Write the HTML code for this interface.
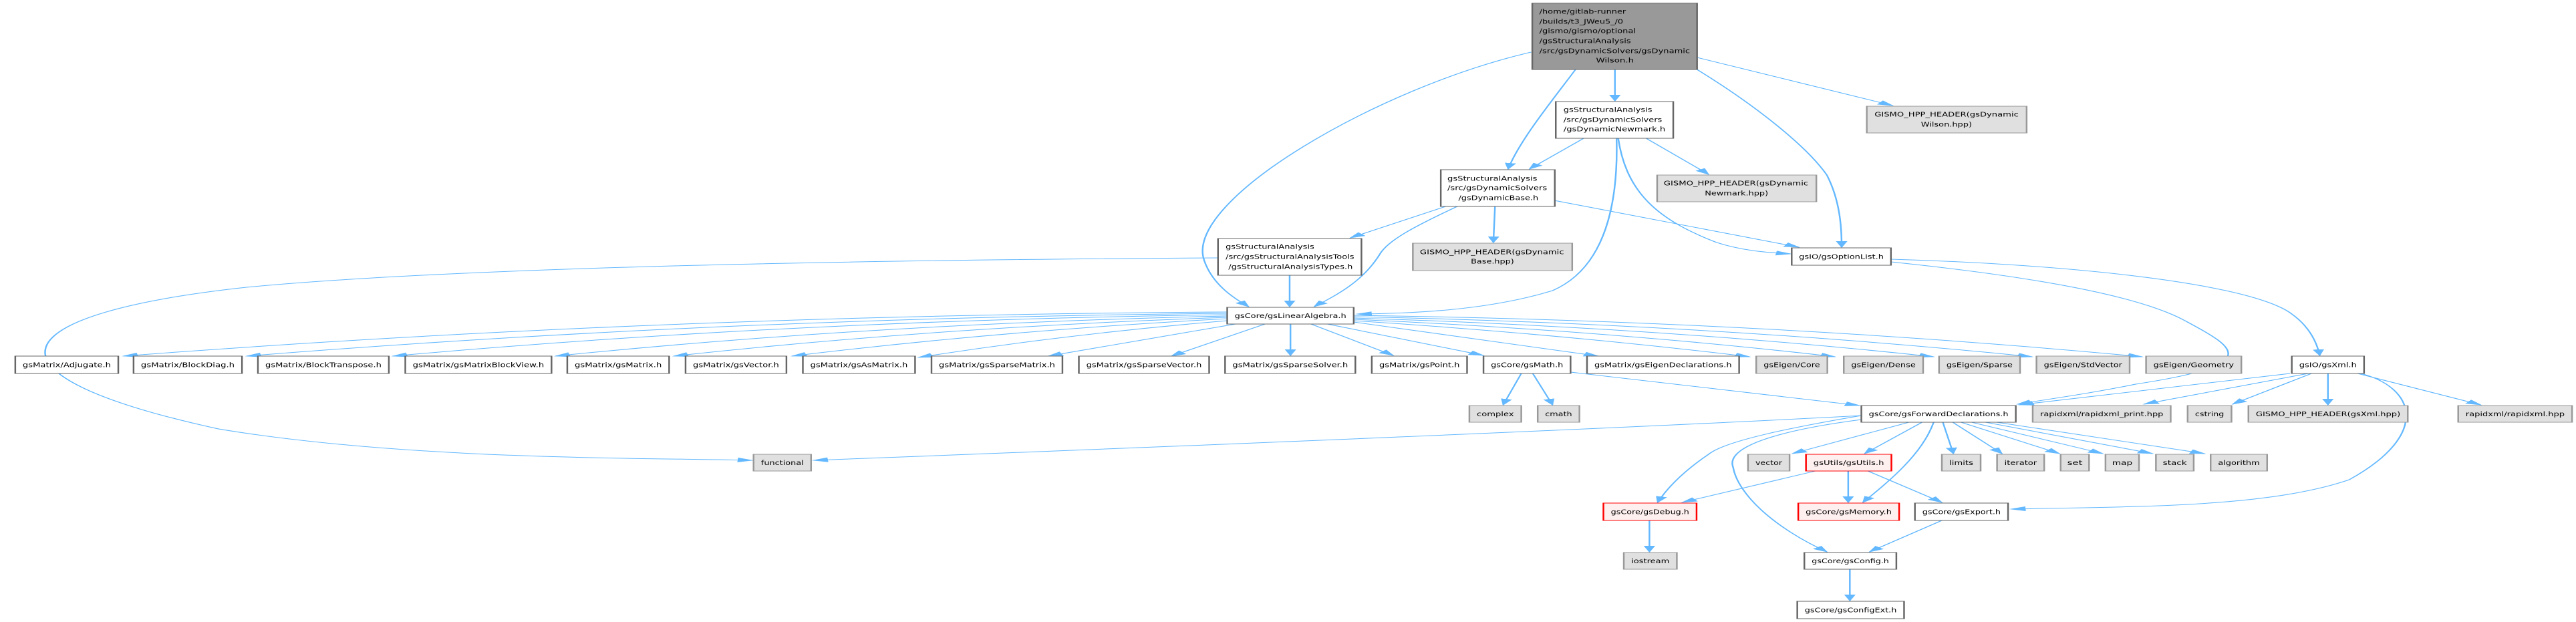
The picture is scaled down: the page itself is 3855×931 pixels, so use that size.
<!DOCTYPE html>
<html><head><meta charset="utf-8"><style>
html,body{margin:0;padding:0;background:#fff;}
svg{display:block;}
text{font-family:"DejaVu Sans","Liberation Sans",sans-serif;font-size:10px;fill:#000;}
.e{fill:none;stroke:#63b8ff;stroke-width:1;marker-end:url(#a);}
.w{fill:#fff;stroke:#666;stroke-width:1;}
.g{fill:#e0e0e0;stroke:#999;stroke-width:1;}
.r{fill:#fff0f0;stroke:#f00;stroke-width:1;}
.t{fill:#999;stroke:#666;stroke-width:1;}
</style></head><body>
<svg width="3855" height="931" viewBox="0 0 1568 931" preserveAspectRatio="none" xmlns="http://www.w3.org/2000/svg">
<defs><marker id="a" markerUnits="userSpaceOnUse" markerWidth="10" markerHeight="8" refX="9" refY="3.5" orient="auto"><path d="M0,0 L10,3.5 L0,7 z" fill="#63b8ff"/></marker></defs>

<!-- edges -->
<path class="e" d="M932,78 C840,130 720,300 733,390 C738,425 750,445 760,459"/>
<path class="e" d="M959,104 C945,150 925,210 918,253"/>
<path class="e" d="M983,104 L983,151"/>
<path class="e" d="M1033,86 L1152,158"/>
<path class="e" d="M1033,104 C1070,160 1100,220 1112,262 C1120,300 1121,340 1121,370"/>
<path class="e" d="M964,207 L931,253"/>
<path class="e" d="M1002,207 L1040,261"/>
<path class="e" d="M984,207 C985,300 978,400 945,435 C905,465 860,469 826,470"/>
<path class="e" d="M985,207 C990,290 1010,330 1045,363 C1060,375 1075,378 1090,380"/>
<path class="e" d="M880,309 L822,356"/>
<path class="e" d="M887,309 C860,340 845,360 840,380 C830,420 815,440 800,459"/>
<path class="e" d="M910,309 L909,363"/>
<path class="e" d="M946,300 L1095,370"/>
<path class="e" d="M785,412 L785,459"/>
<path class="e" d="M741,386 C600,388 300,395 150,430 C0,470 -20,560 133,642 C250,690 400,685 458,689"/>
<path class="e" d="M1133,622 C1000,640 700,670 495,689"/>
<!-- L fan -->
<path class="e" d="M747,467 Q400,472 75,533"/>
<path class="e" d="M747,469 Q440,476 150,533"/>
<path class="e" d="M747,471 Q480,480 239,533"/>
<path class="e" d="M747,473 Q530,485 338,533"/>
<path class="e" d="M747,475 Q570,490 410,533"/>
<path class="e" d="M747,477 Q610,495 482,533"/>
<path class="e" d="M747,480 Q650,500 559,535"/>
<path class="e" d="M752,485 L638,533"/>
<path class="e" d="M770,485 L713,533"/>
<path class="e" d="M785.5,485 L785.5,532"/>
<path class="e" d="M798,485 L848,532"/>
<path class="e" d="M808,485 L903,532"/>
<path class="e" d="M824,482 L973,533"/>
<path class="e" d="M824,480 Q950,500 1065,534"/>
<path class="e" d="M824,478 Q980,495 1117,534"/>
<path class="e" d="M824,476 Q1010,490 1177,534"/>
<path class="e" d="M824,474 Q1040,485 1237,534"/>
<path class="e" d="M824,472 Q1070,480 1304,534"/>
<!-- gsMath -->
<path class="e" d="M926,559 L915,606"/>
<path class="e" d="M933,559 L945,606"/>
<path class="e" d="M956,557 L1132,607"/>
<!-- OptionList -->
<path class="e" d="M1151,388 C1250,395 1360,420 1392,465 C1405,485 1410,510 1412,532"/>
<path class="e" d="M1151,392 C1230,412 1300,440 1330,480 C1360,520 1380,545 1300,575 C1270,590 1245,598 1228,605"/>
<!-- gsXml -->
<path class="e" d="M1394,559 L1229,606"/>
<path class="e" d="M1405,559 L1305,605"/>
<path class="e" d="M1407,559 L1359,605"/>
<path class="e" d="M1417,559 L1417,606"/>
<path class="e" d="M1435,559 L1510,606"/>
<path class="e" d="M1437,559 C1470,580 1480,650 1430,718 C1380,760 1300,758 1224,762"/>
<!-- ForwardDecl -->
<path class="e" d="M1162,632 L1091,679"/>
<path class="e" d="M1170,632 L1135,679"/>
<path class="e" d="M1177,632 C1170,680 1150,720 1134,752"/>
<path class="e" d="M1182.6,632 L1189,679"/>
<path class="e" d="M1188.6,632 L1218.6,679"/>
<path class="e" d="M1193.6,632 L1253.6,679"/>
<path class="e" d="M1200,632 L1280,679"/>
<path class="e" d="M1208.6,632 L1310.3,679"/>
<path class="e" d="M1215.3,632 L1342,679"/>
<path class="e" d="M1133,628 C1080,645 1050,670 1055,700 C1058,740 1080,790 1112,826"/>
<path class="e" d="M1133,622 C1090,640 1050,660 1040,680 C1025,705 1015,730 1009,752"/>
<path class="e" d="M1105,705 L1024,752"/>
<path class="e" d="M1125,705 L1125,752"/>
<path class="e" d="M1137,705 L1182,752"/>
<path class="e" d="M1182,779 L1138,826"/>
<path class="e" d="M1126,852 L1126,899"/>
<path class="e" d="M1004,779 L1004,826"/>

<!-- nodes -->
<rect class="t" x="932.7" y="4.7" width="100.3" height="99.3"/>
<text x="937" y="20.5" textLength="52.7" lengthAdjust="spacingAndGlyphs">/home/gitlab-runner</text>
<text x="937" y="35.5" textLength="51" lengthAdjust="spacingAndGlyphs">/builds/t3_JWeu5_/0</text>
<text x="937" y="49.5" textLength="58.7" lengthAdjust="spacingAndGlyphs">/gismo/gismo/optional</text>
<text x="937" y="64.5" textLength="55.7" lengthAdjust="spacingAndGlyphs">/gsStructuralAnalysis</text>
<text x="937" y="79.5" textLength="91.7" lengthAdjust="spacingAndGlyphs">/src/gsDynamicSolvers/gsDynamic</text>
<text x="971.5" y="93.5" textLength="23" lengthAdjust="spacingAndGlyphs">Wilson.h</text>

<rect class="w" x="947" y="152" width="71.5" height="55"/>
<text x="951.7" y="167.5" textLength="54" lengthAdjust="spacingAndGlyphs">gsStructuralAnalysis</text>
<text x="951.7" y="182.5" textLength="60" lengthAdjust="spacingAndGlyphs">/src/gsDynamicSolvers</text>
<text x="951.7" y="196.5" textLength="62" lengthAdjust="spacingAndGlyphs">/gsDynamicNewmark.h</text>

<rect class="w" x="877" y="254" width="69.4" height="55"/>
<text x="881" y="270.5" textLength="54.7" lengthAdjust="spacingAndGlyphs">gsStructuralAnalysis</text>
<text x="881" y="284.5" textLength="60.7" lengthAdjust="spacingAndGlyphs">/src/gsDynamicSolvers</text>
<text x="887.7" y="299.5" textLength="48.7" lengthAdjust="spacingAndGlyphs">/gsDynamicBase.h</text>

<rect class="w" x="741.4" y="357" width="87.3" height="55"/>
<text x="746" y="372.5" textLength="54" lengthAdjust="spacingAndGlyphs">gsStructuralAnalysis</text>
<text x="746" y="387.5" textLength="78.3" lengthAdjust="spacingAndGlyphs">/src/gsStructuralAnalysisTools</text>
<text x="747.7" y="402.5" textLength="75.7" lengthAdjust="spacingAndGlyphs">/gsStructuralAnalysisTypes.h</text>

<rect class="g" x="860" y="364" width="97" height="41"/>
<text x="864.3" y="380.5" textLength="87.7" lengthAdjust="spacingAndGlyphs">GISMO_HPP_HEADER(gsDynamic</text>
<text x="895.3" y="394.5" textLength="26.3" lengthAdjust="spacingAndGlyphs">Base.hpp)</text>

<rect class="g" x="1008.7" y="262" width="96.9" height="40"/>
<text x="1012.7" y="277.5" textLength="88" lengthAdjust="spacingAndGlyphs">GISMO_HPP_HEADER(gsDynamic</text>
<text x="1037.7" y="292.5" textLength="38.6" lengthAdjust="spacingAndGlyphs">Newmark.hpp)</text>

<rect class="g" x="1136.3" y="159" width="97.3" height="40"/>
<text x="1141" y="174.5" textLength="87.7" lengthAdjust="spacingAndGlyphs">GISMO_HPP_HEADER(gsDynamic</text>
<text x="1169.3" y="189.5" textLength="31" lengthAdjust="spacingAndGlyphs">Wilson.hpp)</text>

<rect class="w" x="1090.6" y="371" width="60.4" height="26"/>
<text x="1095" y="387.5" textLength="51.6" lengthAdjust="spacingAndGlyphs">gsIO/gsOptionList.h</text>

<rect class="w" x="747" y="460" width="77" height="25"/>
<text x="751.5" y="476" textLength="68" lengthAdjust="spacingAndGlyphs">gsCore/gsLinearAlgebra.h</text>

<!-- row 2 -->
<g>
<rect class="w" x="9.3" y="533" width="62.7" height="26"/><text x="13.8" y="549.5" textLength="53.7" lengthAdjust="spacingAndGlyphs">gsMatrix/Adjugate.h</text>
<rect class="w" x="81.3" y="533" width="66" height="26"/><text x="85.8" y="549.5" textLength="57" lengthAdjust="spacingAndGlyphs">gsMatrix/BlockDiag.h</text>
<rect class="w" x="157" y="533" width="79.7" height="26"/><text x="161.5" y="549.5" textLength="70.7" lengthAdjust="spacingAndGlyphs">gsMatrix/BlockTranspose.h</text>
<rect class="w" x="246.7" y="533" width="89" height="26"/><text x="251.2" y="549.5" textLength="80" lengthAdjust="spacingAndGlyphs">gsMatrix/gsMatrixBlockView.h</text>
<rect class="w" x="345.3" y="533" width="62" height="26"/><text x="349.8" y="549.5" textLength="53" lengthAdjust="spacingAndGlyphs">gsMatrix/gsMatrix.h</text>
<rect class="w" x="417.3" y="533" width="61.4" height="26"/><text x="421.8" y="549.5" textLength="52.4" lengthAdjust="spacingAndGlyphs">gsMatrix/gsVector.h</text>
<rect class="w" x="488.7" y="533" width="68.3" height="26"/><text x="493.2" y="549.5" textLength="59.3" lengthAdjust="spacingAndGlyphs">gsMatrix/gsAsMatrix.h</text>
<rect class="w" x="567" y="533" width="79.7" height="26"/><text x="571.5" y="549.5" textLength="70.7" lengthAdjust="spacingAndGlyphs">gsMatrix/gsSparseMatrix.h</text>
<rect class="w" x="656.7" y="533" width="79.3" height="26"/><text x="661.2" y="549.5" textLength="70.3" lengthAdjust="spacingAndGlyphs">gsMatrix/gsSparseVector.h</text>
<rect class="w" x="745.7" y="533" width="79.3" height="26"/><text x="750.2" y="549.5" textLength="70.3" lengthAdjust="spacingAndGlyphs">gsMatrix/gsSparseSolver.h</text>
<rect class="w" x="835" y="533" width="58" height="26"/><text x="839.5" y="549.5" textLength="49" lengthAdjust="spacingAndGlyphs">gsMatrix/gsPoint.h</text>
<rect class="w" x="903" y="533" width="53" height="26"/><text x="907.5" y="549.5" textLength="44" lengthAdjust="spacingAndGlyphs">gsCore/gsMath.h</text>
<rect class="w" x="966" y="533" width="92.6" height="26"/><text x="970.5" y="549.5" textLength="83.6" lengthAdjust="spacingAndGlyphs">gsMatrix/gsEigenDeclarations.h</text>
<rect class="g" x="1069" y="533" width="43.3" height="26"/><text x="1073.5" y="549.5" textLength="34.3" lengthAdjust="spacingAndGlyphs">gsEigen/Core</text>
<rect class="g" x="1122.3" y="533" width="48.3" height="26"/><text x="1126.8" y="549.5" textLength="39.3" lengthAdjust="spacingAndGlyphs">gsEigen/Dense</text>
<rect class="g" x="1180.3" y="533" width="49.3" height="26"/><text x="1184.8" y="549.5" textLength="40.3" lengthAdjust="spacingAndGlyphs">gsEigen/Sparse</text>
<rect class="g" x="1239.6" y="533" width="56.7" height="26"/><text x="1244.1" y="549.5" textLength="47.7" lengthAdjust="spacingAndGlyphs">gsEigen/StdVector</text>
<rect class="g" x="1306.3" y="533" width="58" height="26"/><text x="1310.8" y="549.5" textLength="49" lengthAdjust="spacingAndGlyphs">gsEigen/Geometry</text>
<rect class="w" x="1395" y="533" width="44" height="26"/><text x="1399.5" y="549.5" textLength="35" lengthAdjust="spacingAndGlyphs">gsIO/gsXml.h</text>
</g>

<!-- row 3 -->
<rect class="g" x="894.4" y="607" width="31.6" height="25"/><text x="898.9" y="623" textLength="22.6" lengthAdjust="spacingAndGlyphs">complex</text>
<rect class="g" x="936" y="607" width="25.4" height="25"/><text x="940.5" y="623" textLength="16.4" lengthAdjust="spacingAndGlyphs">cmath</text>
<rect class="w" x="1133" y="607" width="94" height="25"/><text x="1137.5" y="623" textLength="85" lengthAdjust="spacingAndGlyphs">gsCore/gsForwardDeclarations.h</text>
<rect class="g" x="1237.3" y="607" width="84" height="25"/><text x="1241.8" y="623" textLength="75" lengthAdjust="spacingAndGlyphs">rapidxml/rapidxml_print.hpp</text>
<rect class="g" x="1331.6" y="607" width="26.7" height="25"/><text x="1336.1" y="623" textLength="17.7" lengthAdjust="spacingAndGlyphs">cstring</text>
<rect class="g" x="1368.6" y="607" width="97" height="25"/><text x="1373.1" y="623" textLength="88" lengthAdjust="spacingAndGlyphs">GISMO_HPP_HEADER(gsXml.hpp)</text>
<rect class="g" x="1496.3" y="607" width="69.3" height="25"/><text x="1500.8" y="623" textLength="60.3" lengthAdjust="spacingAndGlyphs">rapidxml/rapidxml.hpp</text>

<!-- row 4 -->
<rect class="g" x="458.7" y="680" width="35" height="25"/><text x="463.2" y="696" textLength="26" lengthAdjust="spacingAndGlyphs">functional</text>
<rect class="g" x="1064" y="680" width="25.3" height="25"/><text x="1068.5" y="696" textLength="16.3" lengthAdjust="spacingAndGlyphs">vector</text>
<rect class="r" x="1099.3" y="680" width="52" height="25"/><text x="1103.8" y="696" textLength="43" lengthAdjust="spacingAndGlyphs">gsUtils/gsUtils.h</text>
<rect class="g" x="1182" y="680" width="23.6" height="25"/><text x="1186.5" y="696" textLength="14.6" lengthAdjust="spacingAndGlyphs">limits</text>
<rect class="g" x="1215.6" y="680" width="28.7" height="25"/><text x="1220.1" y="696" textLength="19.7" lengthAdjust="spacingAndGlyphs">iterator</text>
<rect class="g" x="1254.3" y="680" width="17.3" height="25"/><text x="1258.3" y="696" textLength="9.3" lengthAdjust="spacingAndGlyphs">set</text>
<rect class="g" x="1281.6" y="680" width="20.4" height="25"/><text x="1285.6" y="696" textLength="12.4" lengthAdjust="spacingAndGlyphs">map</text>
<rect class="g" x="1312.3" y="680" width="23" height="25"/><text x="1316.5" y="696" textLength="14.6" lengthAdjust="spacingAndGlyphs">stack</text>
<rect class="g" x="1345.6" y="680" width="34.4" height="25"/><text x="1350.1" y="696" textLength="25.4" lengthAdjust="spacingAndGlyphs">algorithm</text>

<!-- row 5 -->
<rect class="r" x="976" y="753" width="56.7" height="26"/><text x="980.5" y="769.5" textLength="47.7" lengthAdjust="spacingAndGlyphs">gsCore/gsDebug.h</text>
<rect class="r" x="1094.6" y="753" width="61.4" height="26"/><text x="1099.1" y="769.5" textLength="52.4" lengthAdjust="spacingAndGlyphs">gsCore/gsMemory.h</text>
<rect class="w" x="1165.6" y="753" width="56.7" height="26"/><text x="1170.1" y="769.5" textLength="47.7" lengthAdjust="spacingAndGlyphs">gsCore/gsExport.h</text>

<!-- row 6 -->
<rect class="g" x="988.4" y="827" width="32.3" height="25"/><text x="992.9" y="843" textLength="23.3" lengthAdjust="spacingAndGlyphs">iostream</text>
<rect class="w" x="1098.3" y="827" width="56" height="25"/><text x="1102.8" y="843" textLength="47" lengthAdjust="spacingAndGlyphs">gsCore/gsConfig.h</text>

<rect class="w" x="1094" y="900" width="65" height="26"/><text x="1098.5" y="916.5" textLength="56" lengthAdjust="spacingAndGlyphs">gsCore/gsConfigExt.h</text>
</svg>
</body></html>
